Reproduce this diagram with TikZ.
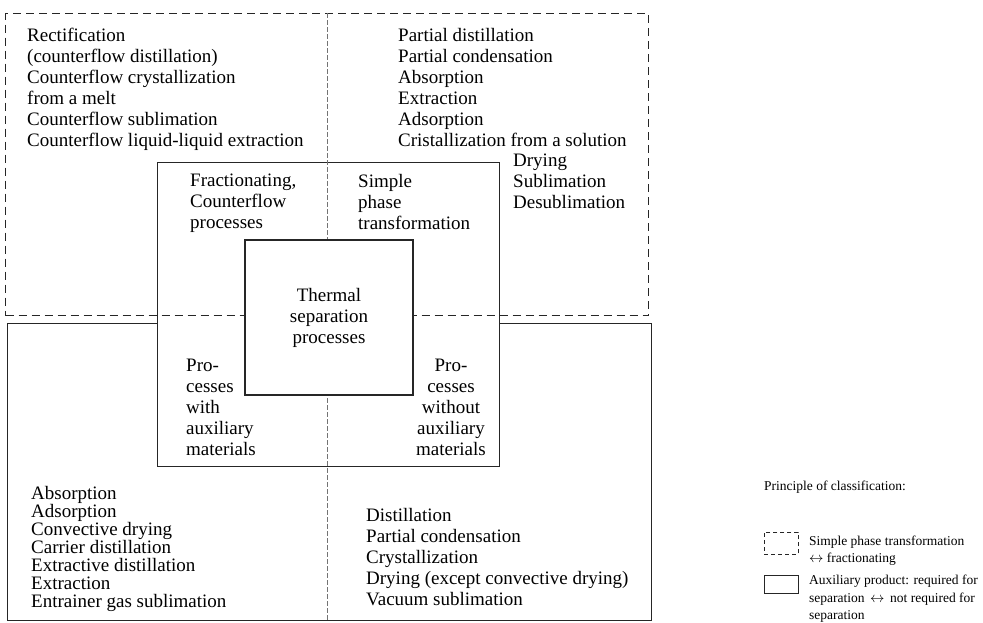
\documentclass[tikz,border=0pt]{standalone}
\usepackage{fontspec}
\setmainfont{Liberation Serif}
\usetikzlibrary{positioning}
\tikzset{
every node/.style={inner sep=0pt}, % no padding round the texts
txt/.style={font=\fontsize{19}{21}\selectfont, align=left, anchor=north west}, % list text
tight/.style={txt, font=\fontsize{19}{18}\selectfont}, % denser list
note/.style={font=\fontsize{13.5}{17.5}\selectfont, align=left, anchor=north west}, % legend text
frame/.style={draw=black!85, line width=1.1pt}, % solid box
dashframe/.style={draw=black!85, line width=1.1pt, dash pattern=on 8pt off 5pt}, % dashed box
divider/.style={draw=black!55, line width=0.5pt, dash pattern=on 5pt off 2pt}, % thin split line
keybox/.style={frame, line width=0.9pt, anchor=north west, minimum width=34pt, minimum height=18pt}, % legend sample
}

\begin{document}
\begin{tikzpicture}[x=1pt, y=-1pt]
        \useasboundingbox (0,0) rectangle (983,623);
        % boxes
        \node[frame, anchor=north west, minimum width=644pt, minimum height=297pt] (aux) at (7,323) {};
        \node[frame, fill=white, anchor=north west, minimum width=342pt, minimum height=304pt] (mid) at (157,162) {};
        \node[dashframe, anchor=north west, minimum width=643pt, minimum height=302pt] (phase) at (5,13) {};
        \draw[divider] (phase.north) -- (phase.north |- aux.south);
        \node[frame, fill=white, minimum width=168pt, minimum height=155pt, align=center, font=\fontsize{19}{21}\selectfont] (core) at (329,317.5) {Thermal\\separation\\processes};
        % upper half
        \node[txt] (counter) at (27,28) {Rectification\\(counterflow distillation)\\Counterflow crystallization\\from a melt\\Counterflow sublimation\\Counterflow liquid-liquid extraction};
        \node[txt] (single) at (398,28) {Partial distillation\\Partial condensation\\Absorption\\Extraction\\Adsorption\\Cristallization from a solution};
        \node[txt] (drying) at (513,154) {Drying\\Sublimation\\Desublimation};
        \node[txt] (fraction) at (190,174) {Fractionating,\\Counterflow\\processes};
        \node[txt] (simple) at (358,174) {Simple\\phase\\transformation};
        % lower half
        \node[txt] (with) at (186,359) {Pro-\\cesses\\with\\auxiliary\\materials};
        \node[txt, align=center, anchor=north] (without) at (451,359) {Pro-\\cesses\\without\\auxiliary\\materials};
        \node[tight] (auxlist) at (31,486) {Absorption\\Adsorption\\Convective drying\\Carrier distillation\\Extractive distillation\\Extraction\\Entrainer gas sublimation};
        \node[txt] (pure) at (366,508) {Distillation\\Partial condensation\\Crystallization\\Drying (except convective drying)\\Vacuum sublimation};
        % legend
        \node[note] (principle) at (764,481) {Principle of classification:};
        \node[keybox, dashframe, line width=0.9pt, dash pattern=on 4pt off 3pt, minimum height=22pt] (keydash) at (764,532) {};
        \node[note, below right=3.5pt and 10pt of keydash.north east] (keydashtxt) {Simple phase transformation\\$\leftrightarrow$ fractionating};
        \node[keybox] (keysolid) at (764,575) {};
        \node[note, below right=0pt and 10pt of keysolid.north east] (keysolidtxt) {Auxiliary product: required for\\separation~\,$\leftrightarrow$\,~not required for\\separation};
\end{tikzpicture}
\end{document}
